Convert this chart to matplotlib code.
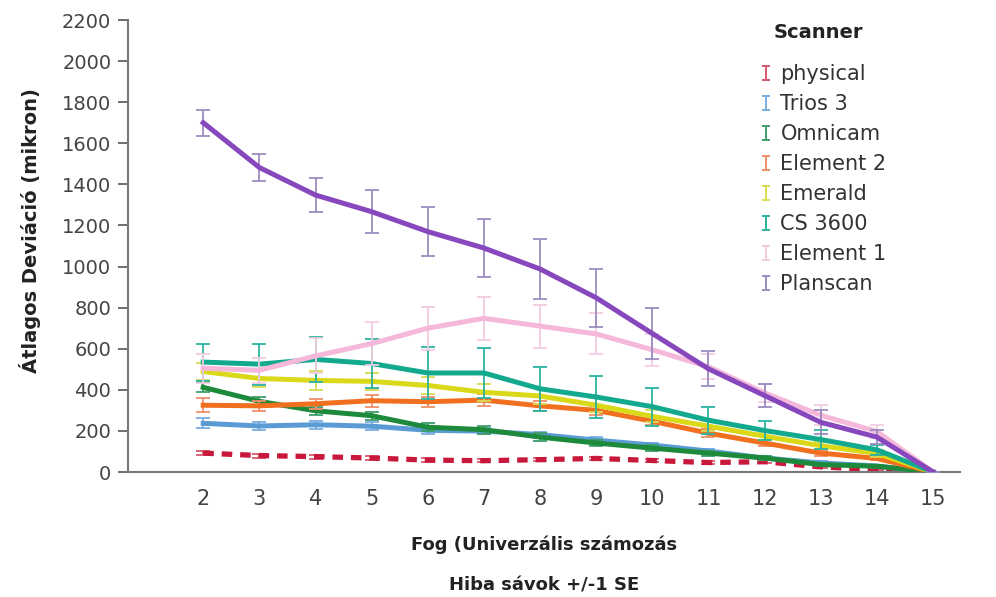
import matplotlib
matplotlib.use("Agg")
import matplotlib.pyplot as plt
from matplotlib.path import Path
from matplotlib.lines import Line2D

plt.rcParams['font.family'] = ['DejaVu Sans']

teeth = [2, 3, 4, 5, 6, 7, 8, 9, 10, 11, 12, 13, 14, 15]

physical = [92, 80, 75, 68, 58, 55, 60, 66, 56, 46, 50, 25, 12, 0]
physical_se = [10, 10, 10, 8, 8, 8, 8, 8, 8, 8, 6, 5, 4, 0]
trios3 = [237, 224, 230, 223, 203, 199, 182, 155, 131, 102, 68, 44, 29, 0]
trios3_se = [25, 18, 20, 20, 18, 15, 15, 15, 12, 12, 10, 8, 6, 0]
omnicam = [412, 344, 298, 274, 218, 206, 170, 141, 116, 92, 68, 36, 28, 0]
omnicam_se = [25, 20, 20, 20, 20, 20, 18, 15, 15, 12, 10, 8, 8, 0]
element2 = [325, 322, 332, 347, 342, 350, 322, 300, 247, 189, 141, 92, 66, 0]
element2_se = [33, 25, 25, 30, 25, 30, 25, 22, 20, 18, 15, 12, 10, 0]
emerald = [489, 455, 446, 441, 421, 388, 370, 325, 271, 223, 174, 128, 90, 0]
emerald_se = [40, 40, 45, 40, 40, 40, 40, 35, 30, 25, 20, 18, 15, 0]
cs3600 = [535, 525, 548, 528, 482, 482, 405, 365, 318, 252, 202, 158, 108, 0]
cs3600_se = [90, 100, 110, 120, 125, 123, 107, 102, 92, 65, 45, 45, 25, 0]
element1 = [505, 495, 565, 625, 700, 748, 710, 672, 595, 512, 385, 276, 197, 0]
element1_se = [70, 60, 85, 105, 105, 105, 105, 100, 78, 60, 45, 48, 30, 0]
planscan = [1700, 1482, 1348, 1267, 1170, 1090, 988, 848, 674, 502, 372, 242, 170, 0]
planscan_se = [63, 68, 83, 104, 119, 140, 145, 140, 126, 85, 55, 58, 34, 0]

names = ['physical', 'Trios 3', 'Omnicam', 'Element 2', 'Emerald', 'CS 3600', 'Element 1', 'Planscan']
means = [physical, trios3, omnicam, element2, emerald, cs3600, element1, planscan]
errors = [physical_se, trios3_se, omnicam_se, element2_se, emerald_se, cs3600_se, element1_se, planscan_se]
line_colors = ['#c8193c', '#5b9bd5', '#1d8a3b', '#f07020', '#d9d91a', '#13a98e', '#f5b8da', '#8748bd']
bar_colors = ['#d65a6e', '#7aaee0', '#3f9e6a', '#ee8f6a', '#dada50', '#2cb3a0', '#f0cde0', '#9c8cc0']

fig = plt.figure(figsize=(9.96, 5.97), dpi=100)
ax = fig.add_axes([128 / 996, 1 - 472 / 597, 832 / 996, 452 / 597])

for i in range(len(names)):
    ax.errorbar(teeth, means[i], yerr=errors[i], fmt='none', ecolor=bar_colors[i],
                elinewidth=1.3, capsize=5, capthick=1.3, zorder=2 + i)
    if names[i] == 'physical':
        ax.plot(teeth, means[i], color=line_colors[i], lw=3.8, dashes=(2, 1.5),
                solid_capstyle='butt', zorder=2 + i)
    else:
        ax.plot(teeth, means[i], color=line_colors[i], lw=3.6, zorder=2 + i)

ax.set_xlim(0.66, 15.48)
ax.set_ylim(0, 2200)
ax.set_xticks(teeth)
ax.set_yticks(range(0, 2201, 200))
ax.tick_params(axis='x', length=0, pad=12, labelsize=15, colors='#444444')
ax.tick_params(axis='y', length=7, width=1.2, pad=5, labelsize=14, colors='#555555',
               labelcolor='#444444')
for s in ['top', 'right']:
    ax.spines[s].set_visible(False)
for s in ['left', 'bottom']:
    ax.spines[s].set_color('#777777')
    ax.spines[s].set_linewidth(1.5)

fig.text(30 / 996, 1 - 231 / 597, 'Átlagos Deviáció (mikron)', rotation=90,
         ha='center', va='center', fontsize=14, fontweight='bold', color='#222222')
fig.text(544 / 996, 1 - 545 / 597, 'Fog (Univerzális számozás', ha='center', va='center',
         fontsize=13, fontweight='bold', color='#222222')
fig.text(544 / 996, 1 - 585 / 597, 'Hiba sávok +/-1 SE', ha='center', va='center',
         fontsize=13, fontweight='bold', color='#222222')

# legend heading sits apart from the entries
fig.text(818 / 996, 1 - 33 / 597, 'Scanner', ha='center', va='center',
         fontsize=14, fontweight='bold', color='#222222')

# I-beam marker for the legend entries
ibeam = Path([(-0.3, 0.5), (0.3, 0.5), (0, 0.5), (0, -0.5), (-0.3, -0.5), (0.3, -0.5)],
             [Path.MOVETO, Path.LINETO, Path.MOVETO, Path.LINETO, Path.MOVETO, Path.LINETO])
handles = [Line2D([], [], ls='none', marker=ibeam, markersize=10, markeredgewidth=1.4,
                  markeredgecolor=c, markerfacecolor='none') for c in bar_colors]
leg = fig.legend(handles, names, loc='upper left',
                 bbox_to_anchor=(745 / 996, 1 - 54 / 597), frameon=False, fontsize=15,
                 handlelength=1.0, handletextpad=0.2, labelspacing=0.48, borderpad=0)
for t in leg.get_texts():
    t.set_color('#333333')

fig.savefig('out.png', dpi=100)
